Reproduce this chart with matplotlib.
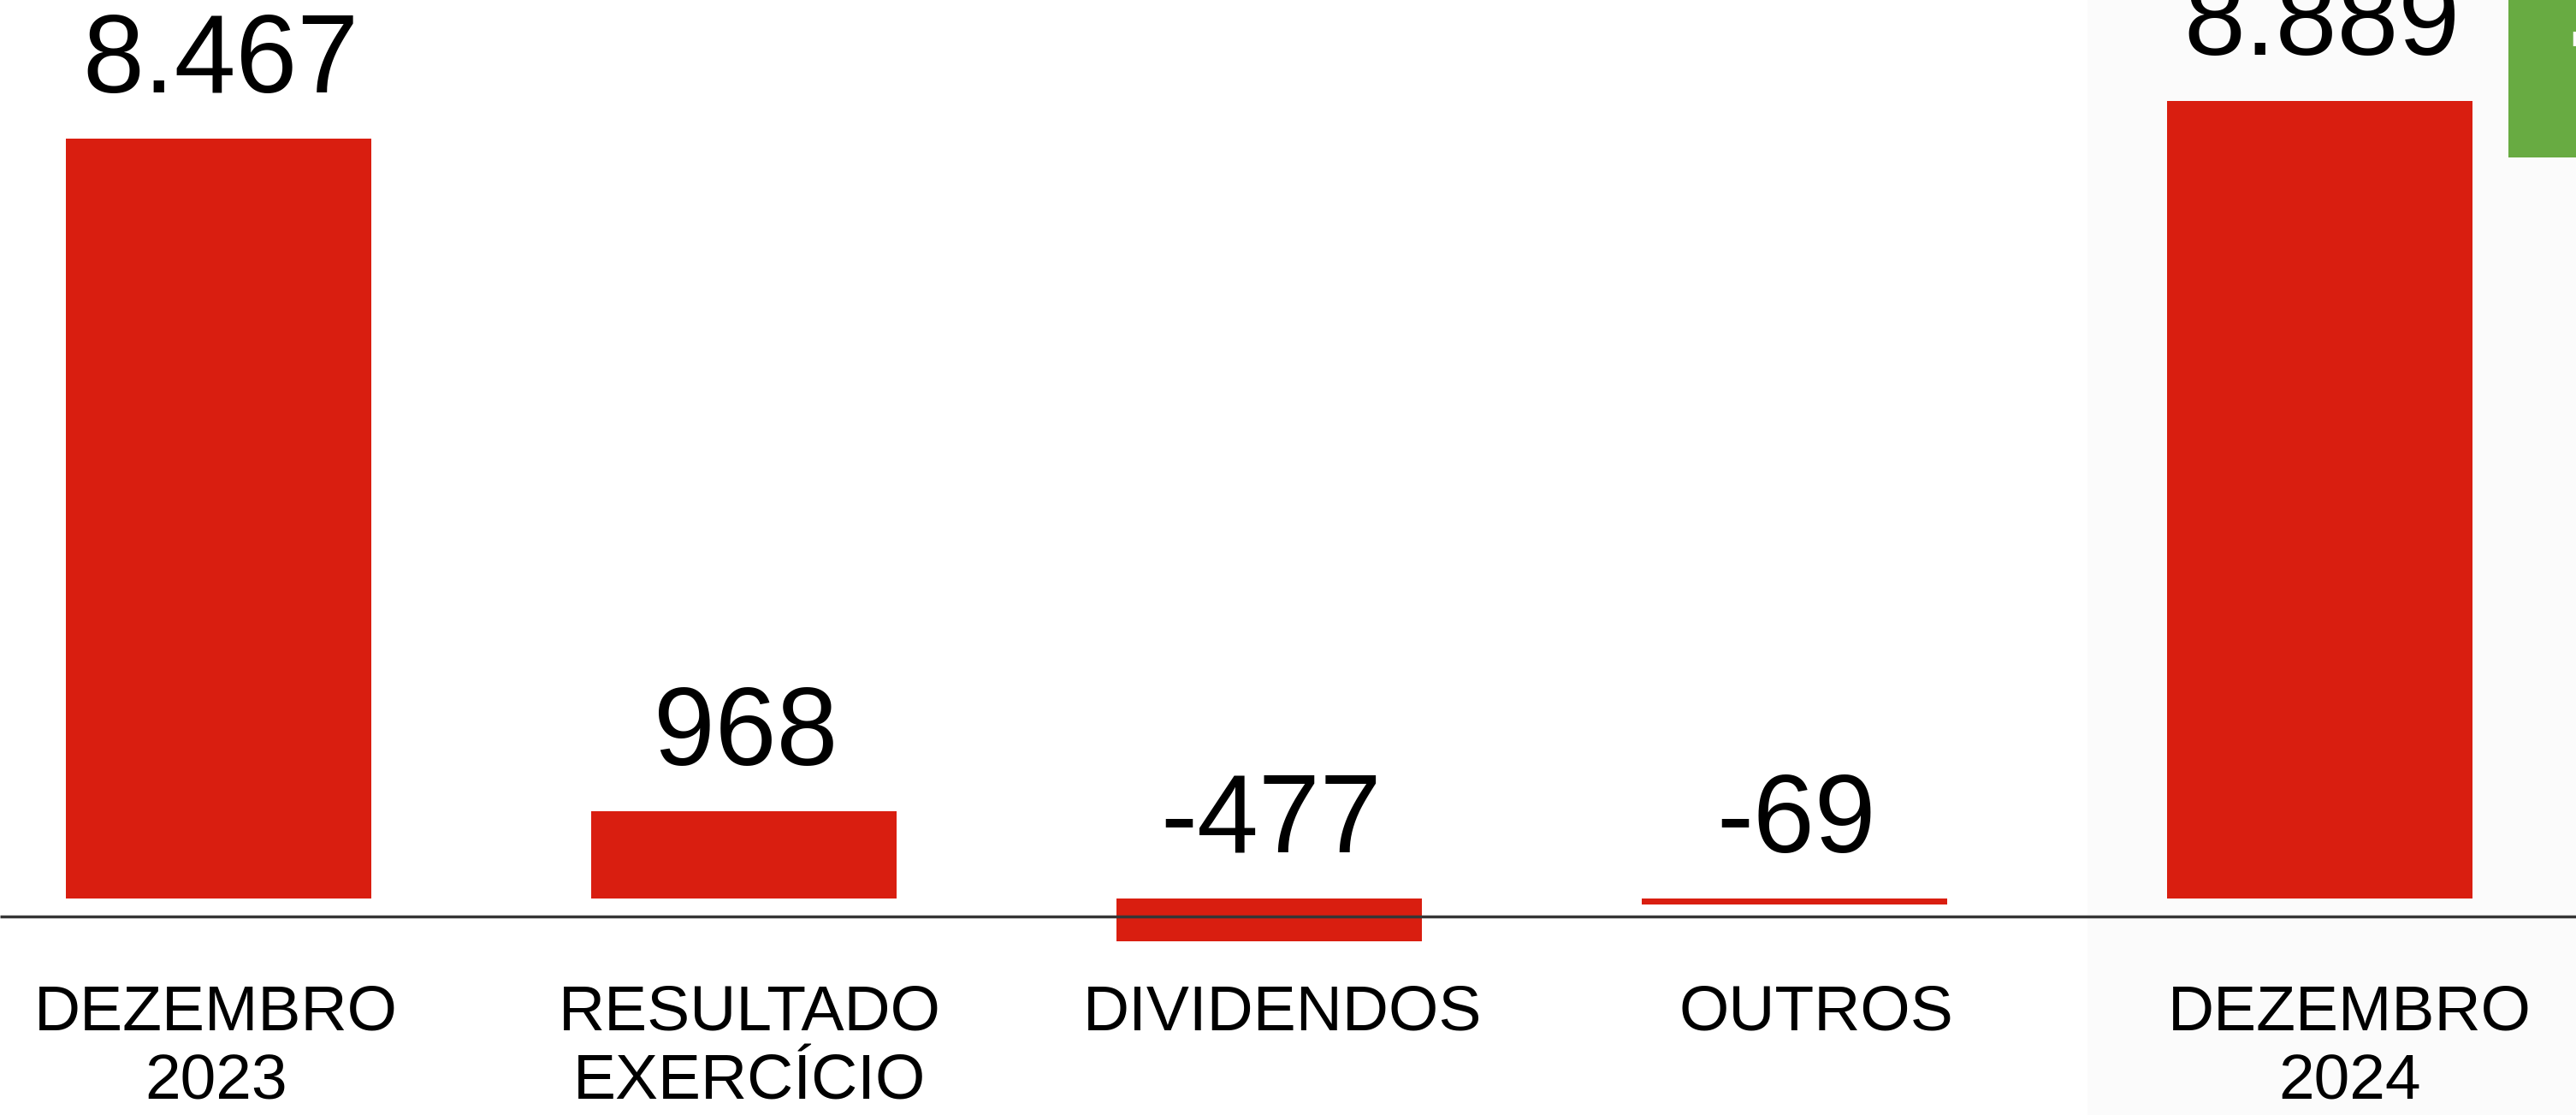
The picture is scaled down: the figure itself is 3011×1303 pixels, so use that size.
import matplotlib
matplotlib.use("Agg")
import matplotlib.pyplot as plt

categories = ["DEZEMBRO\n2023", "RESULTADO\nEXERCÍCIO", "DIVIDENDOS", "OUTROS", "DEZEMBRO\n2024"]
values = [8467, 968, -477, -69, 8889]
value_labels = ["8.467", "968", "-477", "-69", "8.889"]

RED = "#d91e10"
GREEN = "#68ab42"
plt.rcParams['font.family'] = ['Liberation Sans', 'DejaVu Sans']

W, H, DPI = 3011, 1303, 100
fig = plt.figure(figsize=(W / DPI, H / DPI), dpi=DPI)
fig.patch.set_facecolor("white")
ax = fig.add_axes([0, 0, 1, 1])
ax.set_facecolor("white")

# scales: 614 px per category, 0.10488 px per unit
px_per_cat = 614.0
x0 = -255.5 / px_per_cat
ax.set_xlim(x0, x0 + W / px_per_cat)
u_per_px = 1 / 0.10488
ax.set_ylim(-253 * u_per_px, (H - 253) * u_per_px)

# light panel on the right
ax.axvspan(x0 + 2440 / px_per_cat, x0 + W / px_per_cat, color="#fbfbfb", zorder=0, lw=0)

x = list(range(len(categories)))
ax.bar(x, values, width=357 / px_per_cat, color=RED, zorder=2, linewidth=0)

off = 54 * u_per_px
for xi, v, lab in zip(x, values, value_labels):
    ax.text(xi + 0.004, max(v, 0) + off, lab, ha="center", va="baseline",
            fontsize=93, color="black", zorder=3)

# baseline line
ax.plot([0, 1], [232.5 / H, 232.5 / H], transform=ax.transAxes,
        color="#363636", lw=2.5, zorder=4, solid_capstyle="butt")

# category labels
tr = ax.get_xaxis_transform()
for xi, c in zip(x, categories):
    ax.text(xi * 1.0155 - 0.005, 153 / H, c, transform=tr, ha="center", va="top",
            fontsize=54, color="black", linespacing=1.22, zorder=3)

# green corner box (cut off)
ax.add_patch(plt.Rectangle((2932 / W, 1 - 184 / H), 1 - 2932 / W, 184 / H,
                           transform=ax.transAxes, color=GREEN, lw=0, zorder=3,
                           clip_on=False))
ax.text(3000 / W, 1 - 58 / H, "+", transform=ax.transAxes, ha="left", va="center",
        fontsize=115, fontweight="bold", color="white", zorder=4)

ax.axis("off")
fig.savefig("out.png", dpi=DPI, facecolor="white")
